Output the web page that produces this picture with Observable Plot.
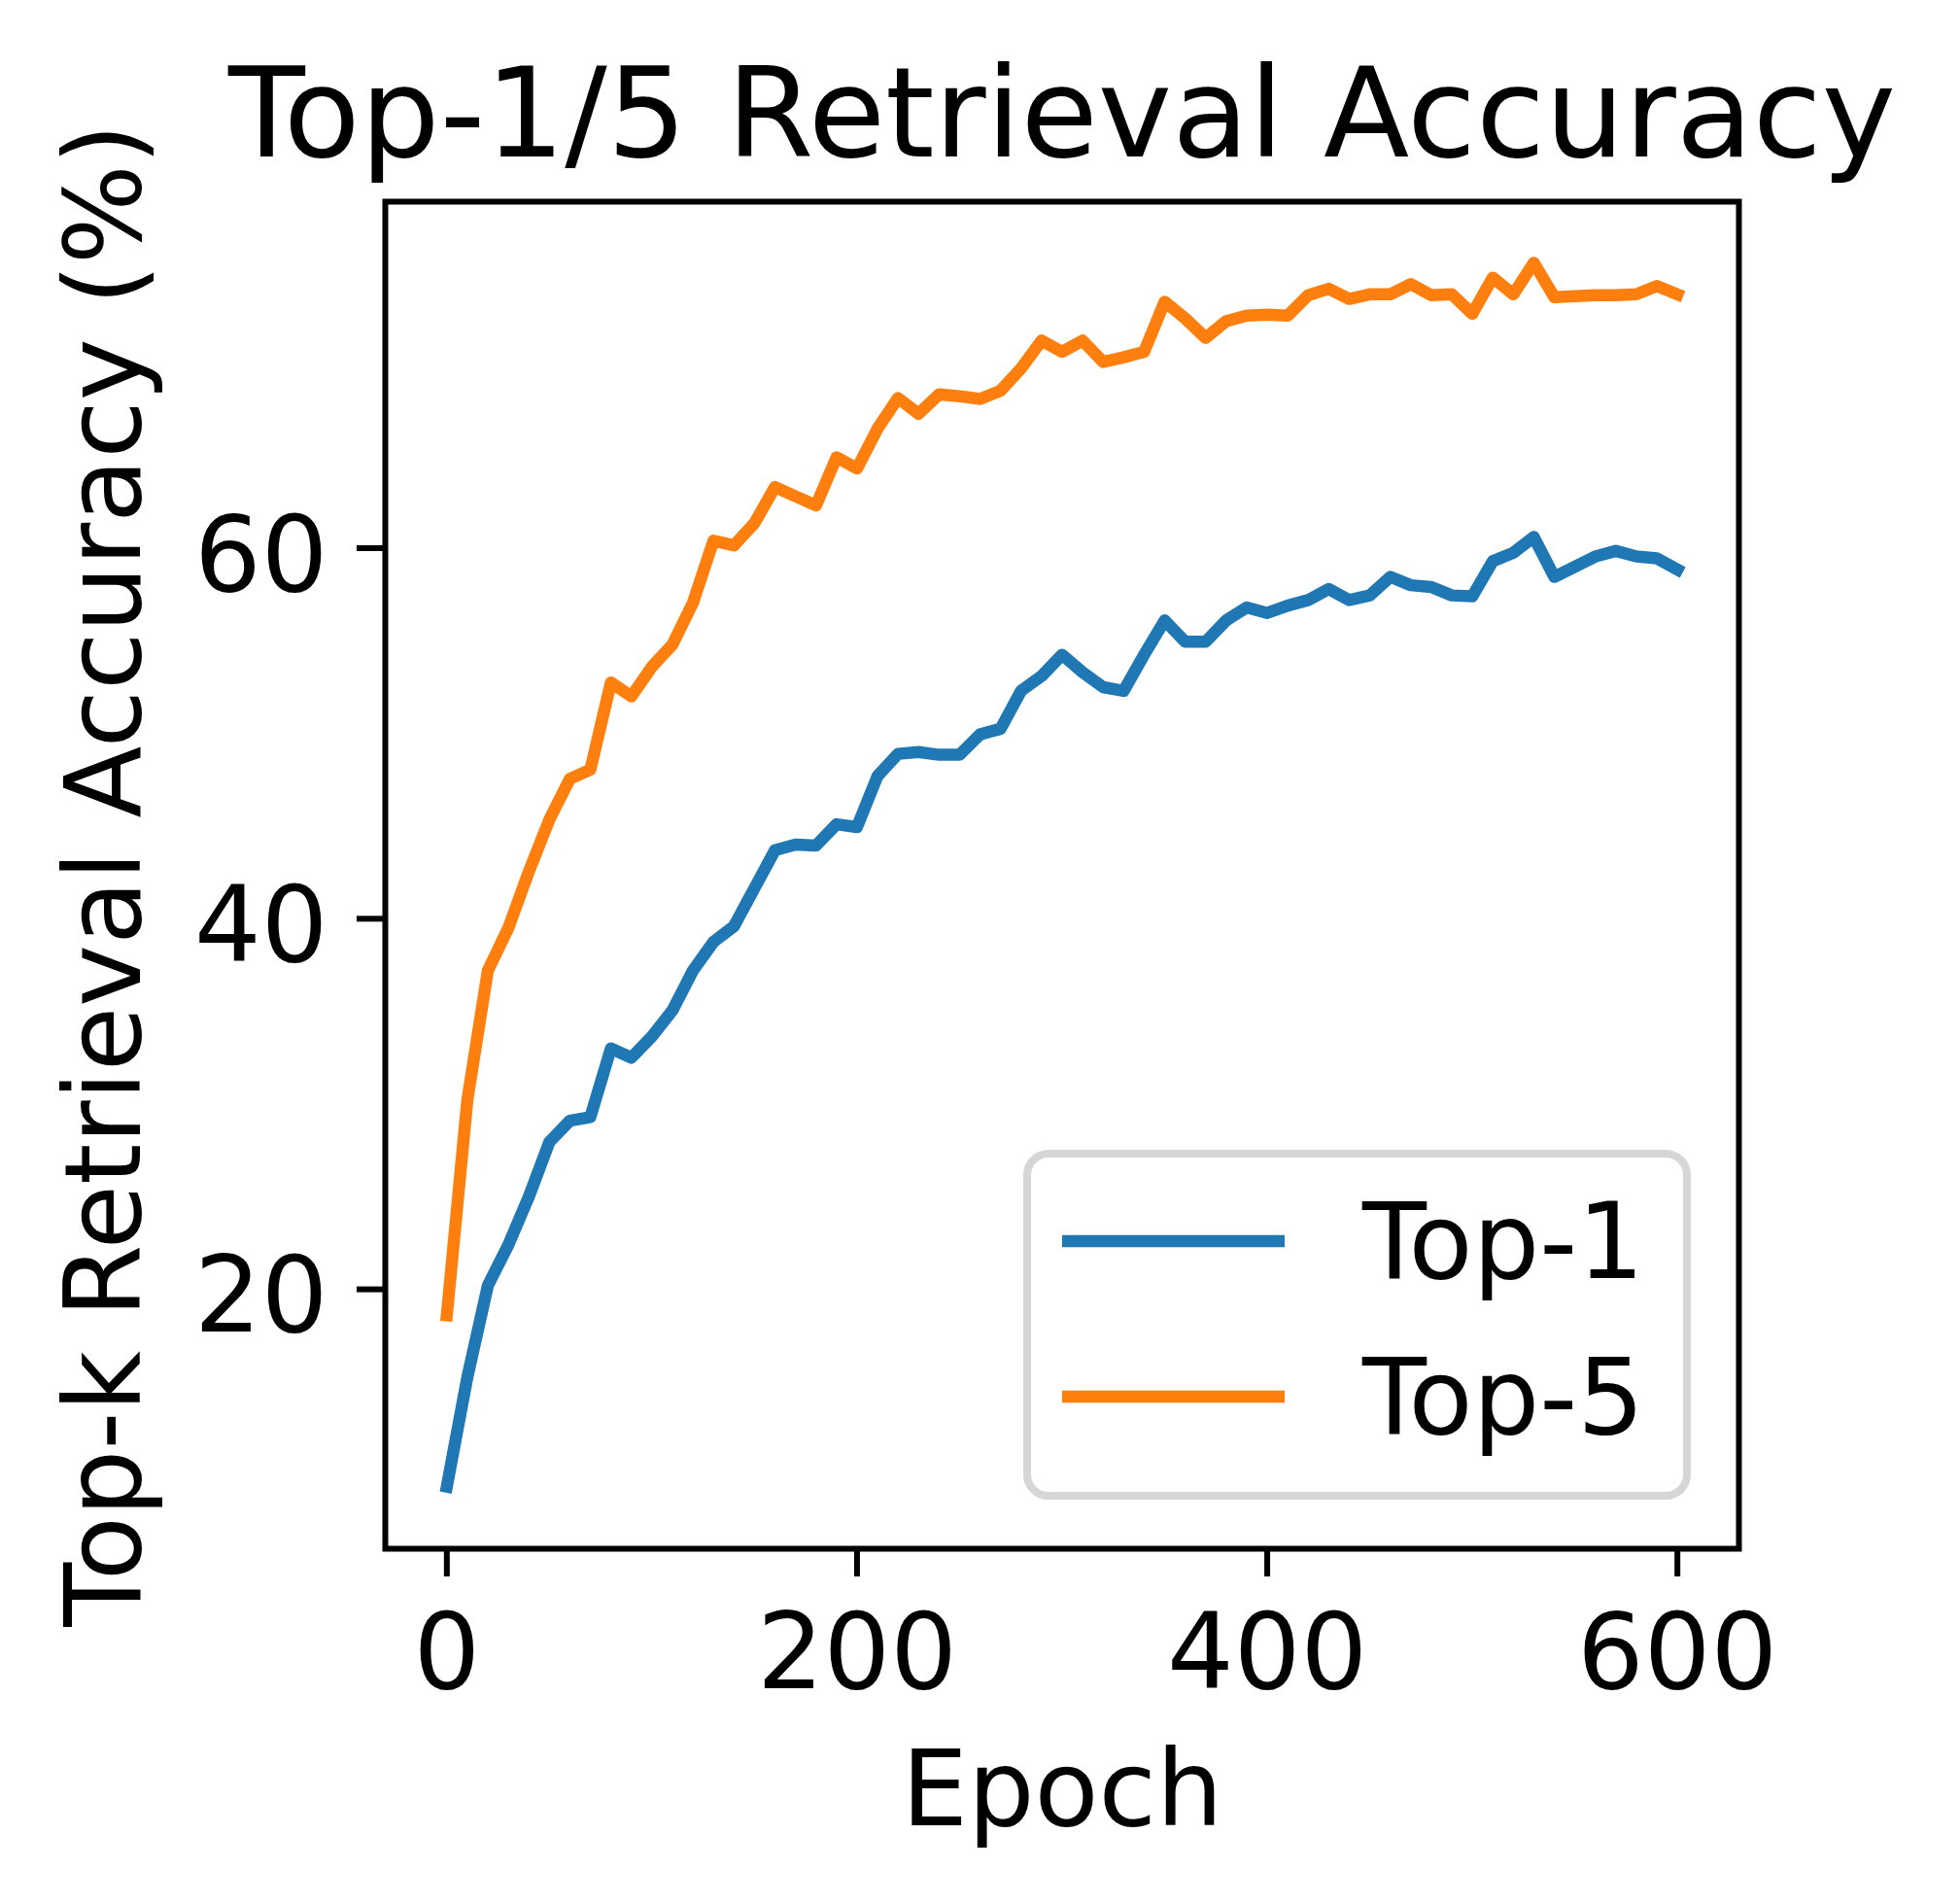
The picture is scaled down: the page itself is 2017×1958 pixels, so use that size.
<!DOCTYPE html>
<html><head><meta charset="utf-8">
<script src="https://cdn.jsdelivr.net/npm/d3@7"></script>
<script src="https://cdn.jsdelivr.net/npm/@observablehq/plot@0.6"></script>
<style>html,body{margin:0;padding:0;background:#fff;} #chart{width:2017px;height:1958px;}</style>
</head><body><div id="chart"></div>
<script>
const epochs = [0,10,20,30,40,50,60,70,80,90,100,110,120,130,140,150,160,170,180,190,200,
  210,220,230,240,250,260,270,280,290,300,310,320,330,340,350,360,370,380,390,400,
  410,420,430,440,450,460,470,480,490,500,510,520,530,540,550,560,570,580,590,600];
const top1 = [9.35,15.25,20.2,22.4,25.0,27.95,29.1,29.3,33.0,32.5,33.65,35.05,37.2,38.75,39.6,41.65,43.7,44.0,43.95,45.1,44.95,
  47.7,48.9,49.0,48.85,48.85,49.95,50.25,52.3,53.1,54.25,53.3,52.5,52.3,54.25,56.1,54.95,54.95,56.1,56.8,56.5,
  56.9,57.2,57.8,57.2,57.45,58.45,58.0,57.9,57.45,57.4,59.3,59.75,60.6,58.45,59.0,59.55,59.85,59.55,59.45,58.85];
const top5 = [18.6,30.2,37.2,39.5,42.55,45.35,47.55,48.05,52.75,52.0,53.6,54.8,57.05,60.4,60.15,61.35,63.3,62.8,62.3,64.9,64.3,
  66.45,68.1,67.25,68.3,68.2,68.05,68.5,69.7,71.2,70.6,71.2,70.05,70.3,70.6,73.3,72.4,71.35,72.25,72.55,72.6,
  72.55,73.65,74.0,73.45,73.7,73.7,74.25,73.65,73.7,72.65,74.6,73.7,75.4,73.55,73.6,73.65,73.65,73.7,74.15,73.7];
const seriesNames = ["Top-1", "Top-5"];
const seriesColors = ["#1f77b4", "#ff7f0e"];
const xTicks = [0, 200, 400, 600];
const yTicks = [20, 40, 60];
const titleText = "Top-1/5 Retrieval Accuracy";
const xLabel = "Epoch";
const yLabel = "Top-k Retrieval Accuracy (%)";

const rows = [];
epochs.forEach((e, i) => {
  rows.push({epoch: e, value: top1[i], series: seriesNames[0]});
  rows.push({epoch: e, value: top5[i], series: seriesNames[1]});
});

const W = 2017, H = 1958, mL = 396, mR = 228, mT = 207, mB = 365;
const FS = 108;
const plot = Plot.plot({
  width: W, height: H, marginLeft: mL, marginRight: mR, marginTop: mT, marginBottom: mB,
  style: {fontFamily: "'DejaVu Sans', sans-serif", background: "#fff", color: "#000", overflow: "visible"},
  x: {domain: [-30, 630]},
  y: {domain: [6.0, 78.7]},
  color: {domain: seriesNames, range: seriesColors},
  marks: [
    Plot.line(rows, {x: "epoch", y: "value", stroke: "series", z: "series", strokeWidth: 12.5, strokeLinejoin: "round", strokeLinecap: "square"}),
    Plot.frame({stroke: "#000", strokeWidth: 6}),
    Plot.axisX({ticks: xTicks, tickSize: 29, tickPadding: 38, fontSize: FS, strokeWidth: 6, label: null}),
    Plot.axisY({ticks: yTicks, tickSize: 29, fill: "none", strokeWidth: 6, label: null}),
    Plot.axisY({ticks: yTicks, tickSize: 0, tickPadding: 59, fontSize: FS, dy: 9, label: null}),
    Plot.text([titleText], {text: d => d, frameAnchor: "top", textAnchor: "middle", lineAnchor: "bottom", dy: -47, fontSize: 129}),
    Plot.text([xLabel], {text: d => d, frameAnchor: "bottom", textAnchor: "middle", lineAnchor: "bottom", dy: 284, fontSize: FS}),
    Plot.text([yLabel], {text: d => d, frameAnchor: "left", textAnchor: "middle", lineAnchor: "bottom", rotate: -90, dx: -253, fontSize: FS})
  ]
});
document.getElementById("chart").appendChild(plot);

// Legend (lower right, matplotlib style)
const svg = d3.select(plot);
const frameRight = W - mR, frameBottom = H - mB;
const boxW = 679, boxH = 352;
const bx = frameRight - 53 - boxW, by = frameBottom - 54 - boxH;
const lg = svg.append("g").attr("font-family", "'DejaVu Sans', sans-serif").attr("text-anchor", "start");
lg.append("rect").attr("x", bx).attr("y", by).attr("width", boxW).attr("height", boxH)
  .attr("rx", 22).attr("ry", 22).attr("fill", "#fff").attr("fill-opacity", 0.8)
  .attr("stroke", "#d6d6d6").attr("stroke-width", 8);
seriesNames.forEach((name, i) => {
  const yy = by + 90 + i * 160;
  lg.append("line").attr("x1", bx + 36).attr("x2", bx + 265).attr("y1", yy).attr("y2", yy)
    .attr("stroke", seriesColors[i]).attr("stroke-width", 12.5);
  lg.append("text").attr("x", bx + 345).attr("y", yy + 38).attr("font-size", FS)
    .attr("text-anchor", "start").attr("fill", "#000").text(name);
});
</script>
</body></html>
